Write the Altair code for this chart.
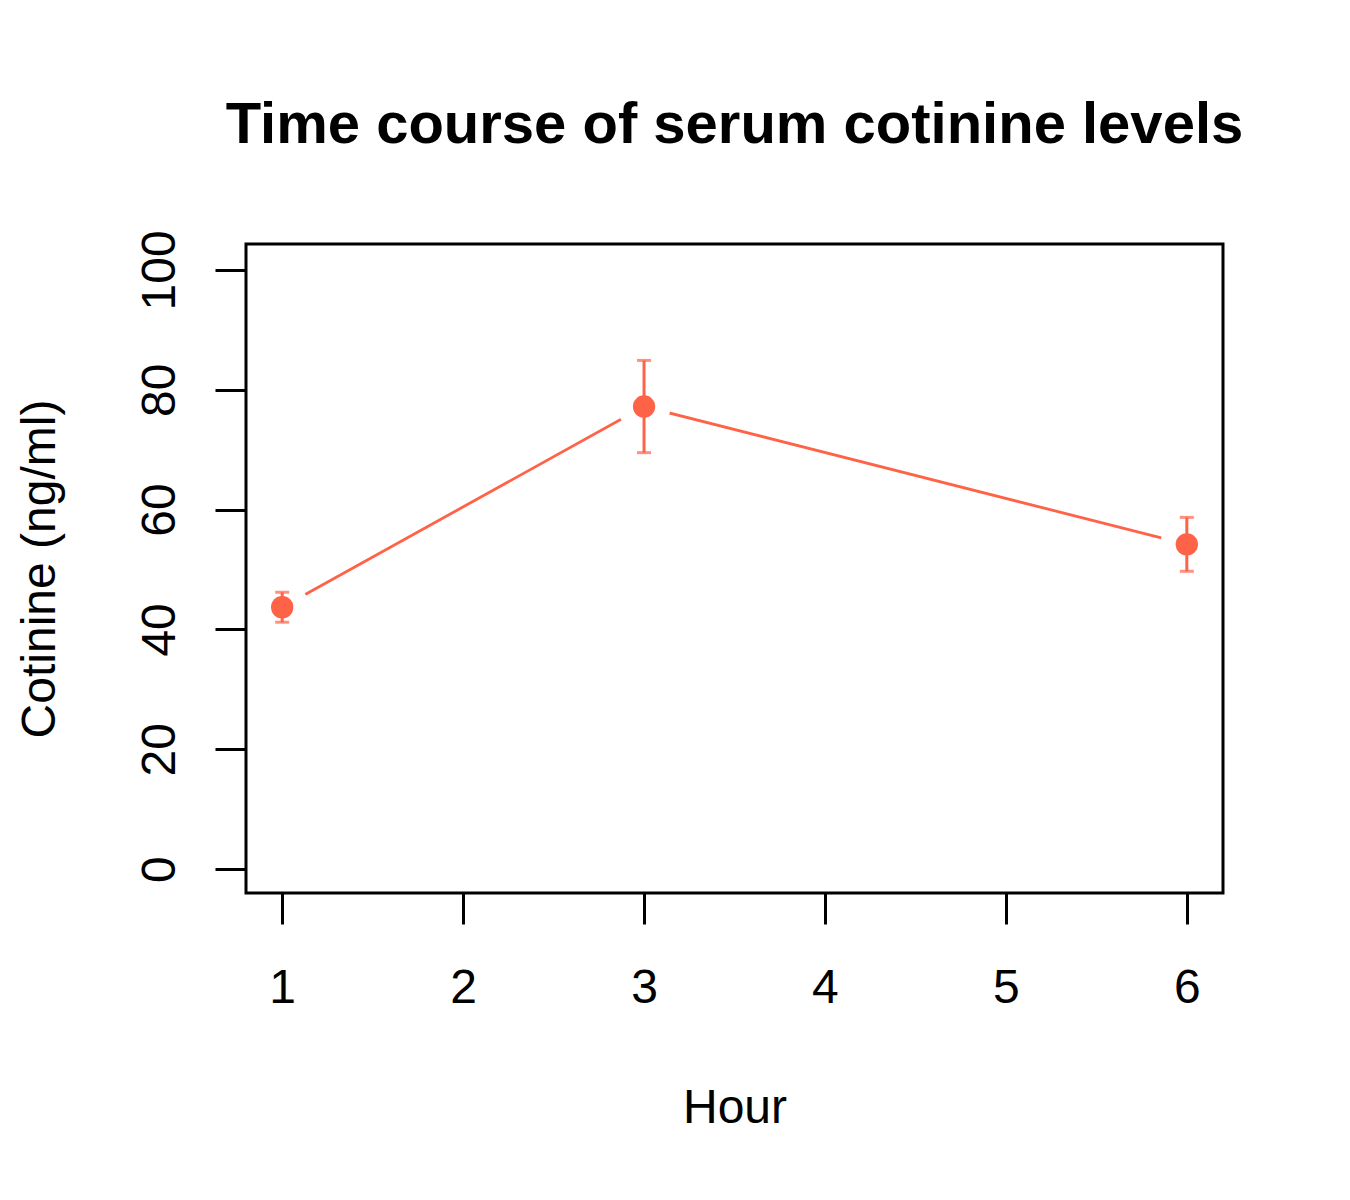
import altair as alt
import pandas as pd

hours = [1, 3, 6]
mean_cot = [43.7, 77.2, 54.2]
lower = [41.2, 69.5, 49.7]
upper = [46.2, 84.9, 58.7]

title_text = "Time course of serum cotinine levels"
x_title = "Hour"
y_title = "Cotinine (ng/ml)"
x_ticks = [1, 2, 3, 4, 5, 6]
y_ticks = [0, 20, 40, 60, 80, 100]

df = pd.DataFrame({"hour": hours, "mean": mean_cot, "lo": lower, "hi": upper})

COLOR = "#FF6347"
FONT = "Liberation Sans"

xscale = alt.Scale(domain=[0.8, 6.2], nice=False, zero=False)
yscale = alt.Scale(domain=[-4, 104.33], nice=False, zero=False)

xaxis = alt.Axis(values=x_ticks, format="d", title=x_title, domain=False, grid=False,
                 tickSize=31, tickWidth=3, tickColor="black",
                 labelFontSize=48, labelFont=FONT, labelColor="black",
                 labelBaseline="alphabetic", labelPadding=78, labelFlush=False,
                 titleFontSize=48, titleFont=FONT, titleFontWeight="normal",
                 titleColor="black", titleBaseline="alphabetic",
                 titleY=229, titleX=488.5, titleAlign="center")
yaxis = alt.Axis(values=y_ticks, format="d", title=y_title, domain=False, grid=False,
                 tickSize=31, tickWidth=3, tickColor="black",
                 labelFontSize=48, labelFont=FONT, labelColor="black",
                 labelAngle=270, labelAlign="center", labelBaseline="alphabetic",
                 labelPadding=41, labelFlush=False,
                 titleFontSize=48, titleFont=FONT, titleFontWeight="normal",
                 titleColor="black", titleBaseline="alphabetic", titleAngle=270,
                 titleAlign="center", titleX=-192, titleY=324.5)

base = alt.Chart(df)

line = base.mark_line(color=COLOR, strokeWidth=2.8).encode(
    x=alt.X("hour:Q", scale=xscale, axis=xaxis),
    y=alt.Y("mean:Q", scale=yscale, axis=yaxis),
)

halo = base.mark_point(filled=True, color="white", opacity=1, size=2800, strokeWidth=0).encode(
    x=alt.X("hour:Q", scale=xscale),
    y=alt.Y("mean:Q", scale=yscale),
)

bars = base.mark_rule(color=COLOR, strokeWidth=3).encode(
    x=alt.X("hour:Q", scale=xscale),
    y=alt.Y("lo:Q", scale=yscale),
    y2="hi:Q",
)

cap_lo = base.mark_tick(color=COLOR, orient="horizontal", size=14, thickness=3).encode(
    x=alt.X("hour:Q", scale=xscale),
    y=alt.Y("lo:Q", scale=yscale),
)
cap_hi = base.mark_tick(color=COLOR, orient="horizontal", size=14, thickness=3).encode(
    x=alt.X("hour:Q", scale=xscale),
    y=alt.Y("hi:Q", scale=yscale),
)

pts = base.mark_point(filled=True, color=COLOR, opacity=1, size=500, strokeWidth=0).encode(
    x=alt.X("hour:Q", scale=xscale),
    y=alt.Y("mean:Q", scale=yscale),
)

chart = alt.layer(line, halo, bars, cap_lo, cap_hi, pts).properties(
    width=977,
    height=649,
    title=alt.TitleParams(title_text, fontSize=58, font=FONT, fontWeight="bold",
                          color="black", anchor="middle", baseline="alphabetic",
                          offset=29),
    autosize=alt.AutoSizeParams(type="none"),
    padding={"left": 246, "top": 244, "right": 127, "bottom": 307},
).configure(
    background="white",
    view=alt.ViewConfig(stroke="black", strokeWidth=3),
)

chart.save("out.html", embed_options={"renderer": "svg", "actions": False})
